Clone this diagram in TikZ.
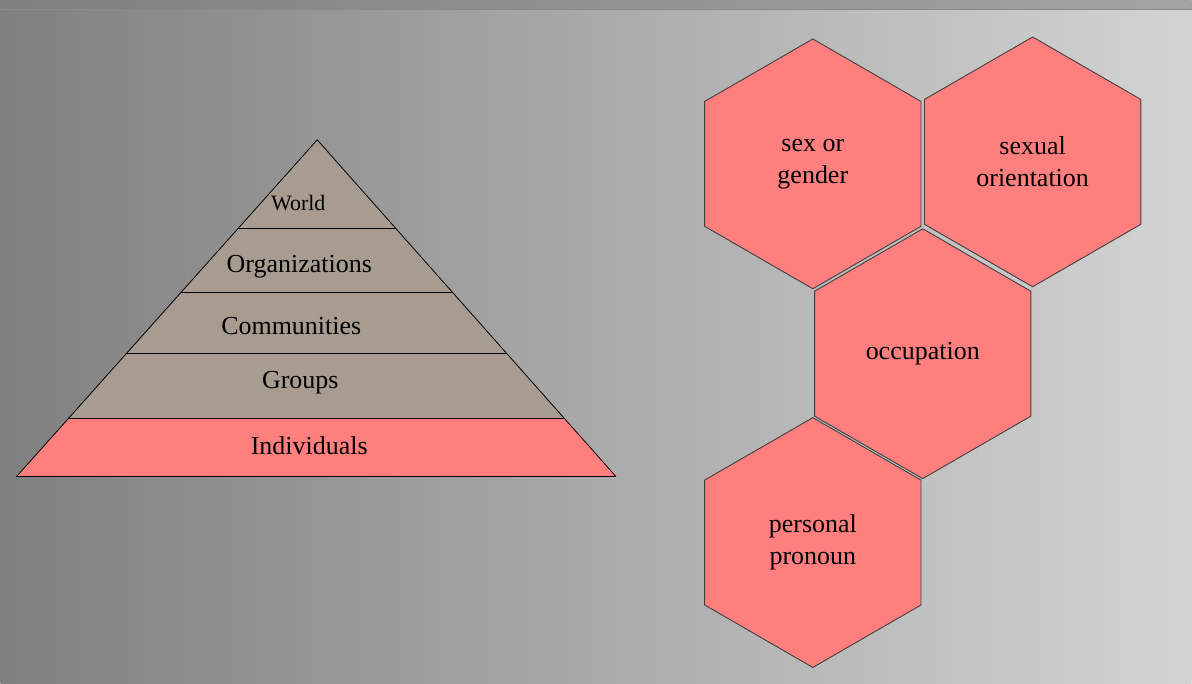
\documentclass[tikz,border=0pt]{standalone}
\usepackage{fontspec}
\setmainfont{Liberation Serif}
\usetikzlibrary{calc}
\definecolor{layerGray}{HTML}{A89C91}
\definecolor{cellPink}{HTML}{FF7F7F}
\definecolor{edgeGray}{HTML}{404040}
\tikzset{
  layer/.style={fill=layerGray},
  cellhex/.style={fill=cellPink,draw=edgeGray,line width=0.9pt},
  layertext/.style={font=\fontsize{26}{32}\selectfont,inner sep=0pt,anchor=base},
  celltext/.style={font=\fontsize{26}{32}\selectfont,inner sep=0pt,align=center},
}

\begin{document}
\begin{tikzpicture}[x=1pt,y=-1pt]
        % Backdrop
        \shade[left color=black!50,right color=black!17] (0,0) rectangle (1192,684);
        \shade[left color=black!50,right color=black!36] (0,0) rectangle (1192,10);
        \draw[black!46,line width=1pt] (0,9.5) -- (1192,9.5);

        % Pyramid
        \coordinate (apex) at (317,140);
        \coordinate (baseL) at (16,477);
        \coordinate (baseR) at (616,477);
        \foreach \i/\t in {1/0.2641,2/0.4540,3/0.6350,4/0.8279}{
          \coordinate (L\i) at ($(apex)!\t!(baseL)$);
          \coordinate (R\i) at ($(apex)!\t!(baseR)$);
        }
        \fill[layer] (apex) -- (L4) -- (R4) -- cycle;
        \fill[cellPink] (L4) -- (baseL) -- (baseR) -- (R4) -- cycle;
        \foreach \i in {1,...,4}{
          \draw[line width=0.9pt] (L\i) -- (R\i);
        }
        \draw[line width=0.8pt] (baseL) -- (apex) -- (baseR);
        \draw[line width=1.4pt] (baseL) -- (baseR);

        \node[layertext,font=\fontsize{22}{26}\selectfont] (world) at (298,211) {World};
        \node[layertext] (orgs) at (299,273) {Organizations};
        \node[layertext] (comms) at (291,335) {Communities};
        \node[layertext] (groups) at (300,389) {Groups};
        \node[layertext] (indiv) at (309,455) {Individuals};

        % Identity cells
        \foreach \name/\cx/\cy/\txt in {gender/813/164/{sex or\\gender},
                                        orient/1033/162/{sexual\\orientation},
                                        occup/923/354/{occupation},
                                        pronoun/813/543/{personal\\pronoun}}{
          \draw[cellhex] (\cx,\cy) +(30:125) -- +(90:125) -- +(150:125)
                         -- +(210:125) -- +(270:125) -- +(330:125) -- cycle;
          \node[celltext] (\name) at (\cx,\cy) {\txt};
        }
\end{tikzpicture}
\end{document}
